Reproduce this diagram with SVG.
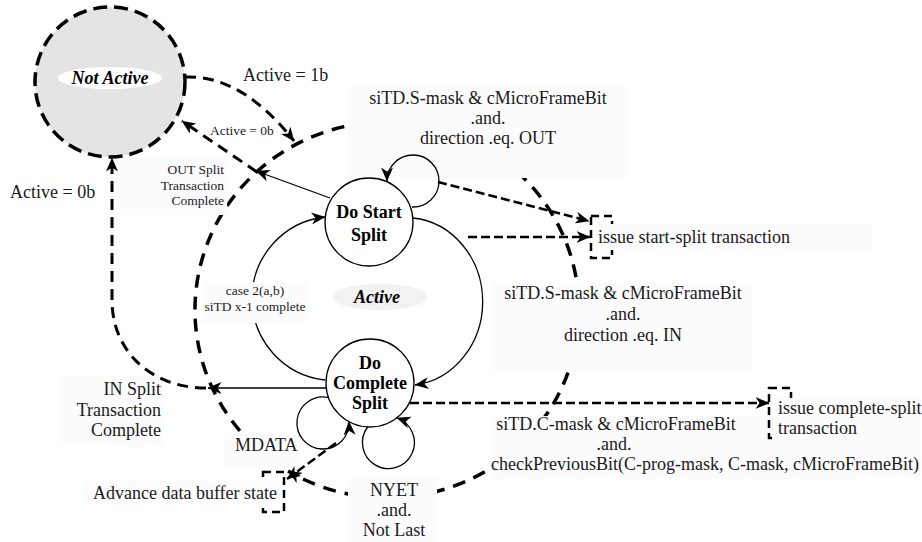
<svg xmlns="http://www.w3.org/2000/svg" width="922" height="542" viewBox="0 0 922 542">
<style>
 .t{font-family:"Liberation Serif","Times New Roman",serif;font-size:18px;fill:#1a1a1a}
 .s{font-size:13.5px}
 .b{font-weight:bold;fill:#000}
 .bi{font-weight:bold;font-style:italic;fill:#000}
 .m{text-anchor:middle}
 .e{text-anchor:end}
 .bg{fill:#fcfcfc}
 .node{fill:#fff;stroke:#000;stroke-width:1.3}
 .thin{fill:none;stroke:#000;stroke-width:1.3}
 .bigdash{fill:none;stroke:#000;stroke-width:3.5;stroke-dasharray:13 9}
 .dash{fill:none;stroke:#000;stroke-width:3;stroke-dasharray:11 7}
 .act{fill:none;stroke:#000;stroke-width:2.5;stroke-dasharray:9 4}
 .box{fill:none;stroke:#000;stroke-width:2.5;stroke-dasharray:8 5}
</style>
<defs>
 <marker id="ah" viewBox="0 0 14 12" refX="13.5" refY="6" markerWidth="14" markerHeight="12" orient="auto" markerUnits="userSpaceOnUse">
  <path d="M0,0 L14,6 L0,12 L4,6 z" fill="#000"/>
 </marker>
</defs>
<rect width="922" height="542" fill="#fff"/>

<g id="active-boundary">
 <path class="bigdash" d="M239.9,430.8 A192,188 0 1 1 288.1,471.1" marker-end="url(#ah)"/>
</g>

<g id="label-backgrounds">
 <rect class="bg" x="348" y="85" width="279" height="93"/>
 <rect class="bg" x="492" y="283" width="261" height="89"/>
 <rect class="bg" x="492" y="416" width="428" height="62"/>
 <rect class="bg" x="120" y="158" width="107" height="57"/>
 <rect class="bg" x="58" y="376" width="105" height="70"/>
 <rect class="bg" x="223" y="433" width="77" height="34"/>
 <rect class="bg" x="348" y="477" width="89" height="65"/>
</g>

<g id="not-active">
 <circle cx="110" cy="82" r="75" fill="#e4e4e4" stroke="#000" stroke-width="3.5" stroke-dasharray="14 7"/>
 <ellipse cx="110" cy="78" rx="52" ry="11" fill="#fff"/>
 <text class="t bi m" x="110" y="84">Not Active</text>
</g>

<g id="active-label">
 <ellipse cx="380" cy="297" rx="48" ry="13" fill="#f2f2f2"/>
 <text class="t bi m" x="377" y="303">Active</text>
</g>

<g id="issue-start-split">
 <rect class="box" x="591" y="216" width="21" height="42"/>
 <rect class="bg" x="598" y="224" width="275" height="26"/>
 <text class="t" x="598" y="243">issue start-split transaction</text>
</g>

<g id="issue-complete-split">
 <rect class="box" x="769" y="388" width="22" height="50"/>
 <rect class="bg" x="776" y="398" width="144" height="42"/>
 <text class="t" x="778" y="414">issue complete-split</text>
 <text class="t" x="778" y="434">transaction</text>
</g>

<g id="connectors">
 <!-- Active = 1b -->
 <path class="dash" d="M185,77 C228,75 265,104 294,141" marker-end="url(#ah)"/>
 <!-- Active = 0b (small) -->
 <path class="dash" d="M257,172 L182,121" marker-end="url(#ah)"/>
 <!-- Active = 0b (left) -->
 <path class="dash" d="M206,388 C152,388 112,352 112,300 L112,158" marker-end="url(#ah)"/>
 <!-- OUT split transaction complete -->
 <path class="thin" d="M330,198 L256,171" marker-end="url(#ah)"/>
 <!-- IN split transaction complete -->
 <path class="thin" d="M326,388 L208,388" marker-end="url(#ah)"/>
 <!-- case 2(a,b): complete -> start -->
 <path class="thin" d="M325,380 A82,82 0 0 1 325,217" marker-end="url(#ah)"/>
 <!-- direction IN: start -> complete -->
 <path class="thin" d="M413,218 A77,84 0 0 1 415,385" marker-end="url(#ah)"/>
 <!-- self loop on Do Start Split -->
 <path class="thin" d="M412,207 A26,26 0 1 0 387,181" marker-end="url(#ah)"/>
 <!-- MDATA loop -->
 <path class="thin" d="M328.5,397.6 A26,26 0 1 0 348.9,421.6" marker-end="url(#ah)"/>
 <!-- NYET loop -->
 <path class="thin" d="M367.6,427 A26,26 0 1 0 397,418" marker-end="url(#ah)"/>
 <!-- action lines -->
 <path class="act" d="M438,182 L589,221" marker-end="url(#ah)"/>
 <path class="act" d="M468,237 L590,237" marker-end="url(#ah)"/>
 <path class="act" d="M410,403 L769,403" marker-end="url(#ah)"/>
 <path class="act" d="M336,443 L287,479" marker-end="url(#ah)"/>
</g>

<g id="advance-data-buffer">
 <rect class="box" x="263" y="472" width="21" height="40"/>
 <rect class="bg" x="83" y="481" width="197" height="23"/>
 <text class="t" x="93" y="499">Advance data buffer state</text>
</g>

<g id="do-start-split">
 <circle class="node" cx="369" cy="222" r="44"/>
 <text class="t b m" x="369" y="218">Do Start</text>
 <text class="t b m" x="369" y="241">Split</text>
</g>

<g id="do-complete-split">
 <circle class="node" cx="370" cy="383" r="44"/>
 <text class="t b m" x="370" y="369">Do</text>
 <text class="t b m" x="370" y="389">Complete</text>
 <text class="t b m" x="370" y="409">Split</text>
</g>

<g id="labels">
 <rect class="bg" x="203" y="282" width="105" height="41"/>
 <text class="t" x="243" y="81">Active = 1b</text>
 <text class="t s" x="210" y="135">Active = 0b</text>
 <text class="t" x="10" y="198">Active = 0b</text>
 <text class="t s e" x="224" y="174">OUT Split</text>
 <text class="t s e" x="224" y="189.5">Transaction</text>
 <text class="t s e" x="224" y="205">Complete</text>
 <text class="t m" x="488" y="104">siTD.S-mask &amp; cMicroFrameBit</text>
 <text class="t m" x="488" y="124">.and.</text>
 <text class="t m" x="488" y="144">direction .eq. OUT</text>
 <text class="t s m" x="255" y="295">case 2(a,b)</text>
 <text class="t s m" x="255" y="311">siTD x-1 complete</text>
 <text class="t m" x="623" y="299">siTD.S-mask &amp; cMicroFrameBit</text>
 <text class="t m" x="623" y="320">.and.</text>
 <text class="t m" x="623" y="341">direction .eq. IN</text>
 <text class="t e" x="161" y="395">IN Split</text>
 <text class="t e" x="161" y="415.5">Transaction</text>
 <text class="t e" x="161" y="436">Complete</text>
 <text class="t" x="235" y="451">MDATA</text>
 <text class="t m" x="616" y="430">siTD.C-mask &amp; cMicroFrameBit</text>
 <text class="t m" x="614" y="450">.and.</text>
 <text class="t" x="491" y="470">checkPreviousBit(C-prog-mask, C-mask, cMicroFrameBit)</text>
 <text class="t m" x="394" y="496">NYET</text>
 <text class="t m" x="394" y="516">.and.</text>
 <text class="t m" x="394" y="536">Not Last</text>
</g>
</svg>
